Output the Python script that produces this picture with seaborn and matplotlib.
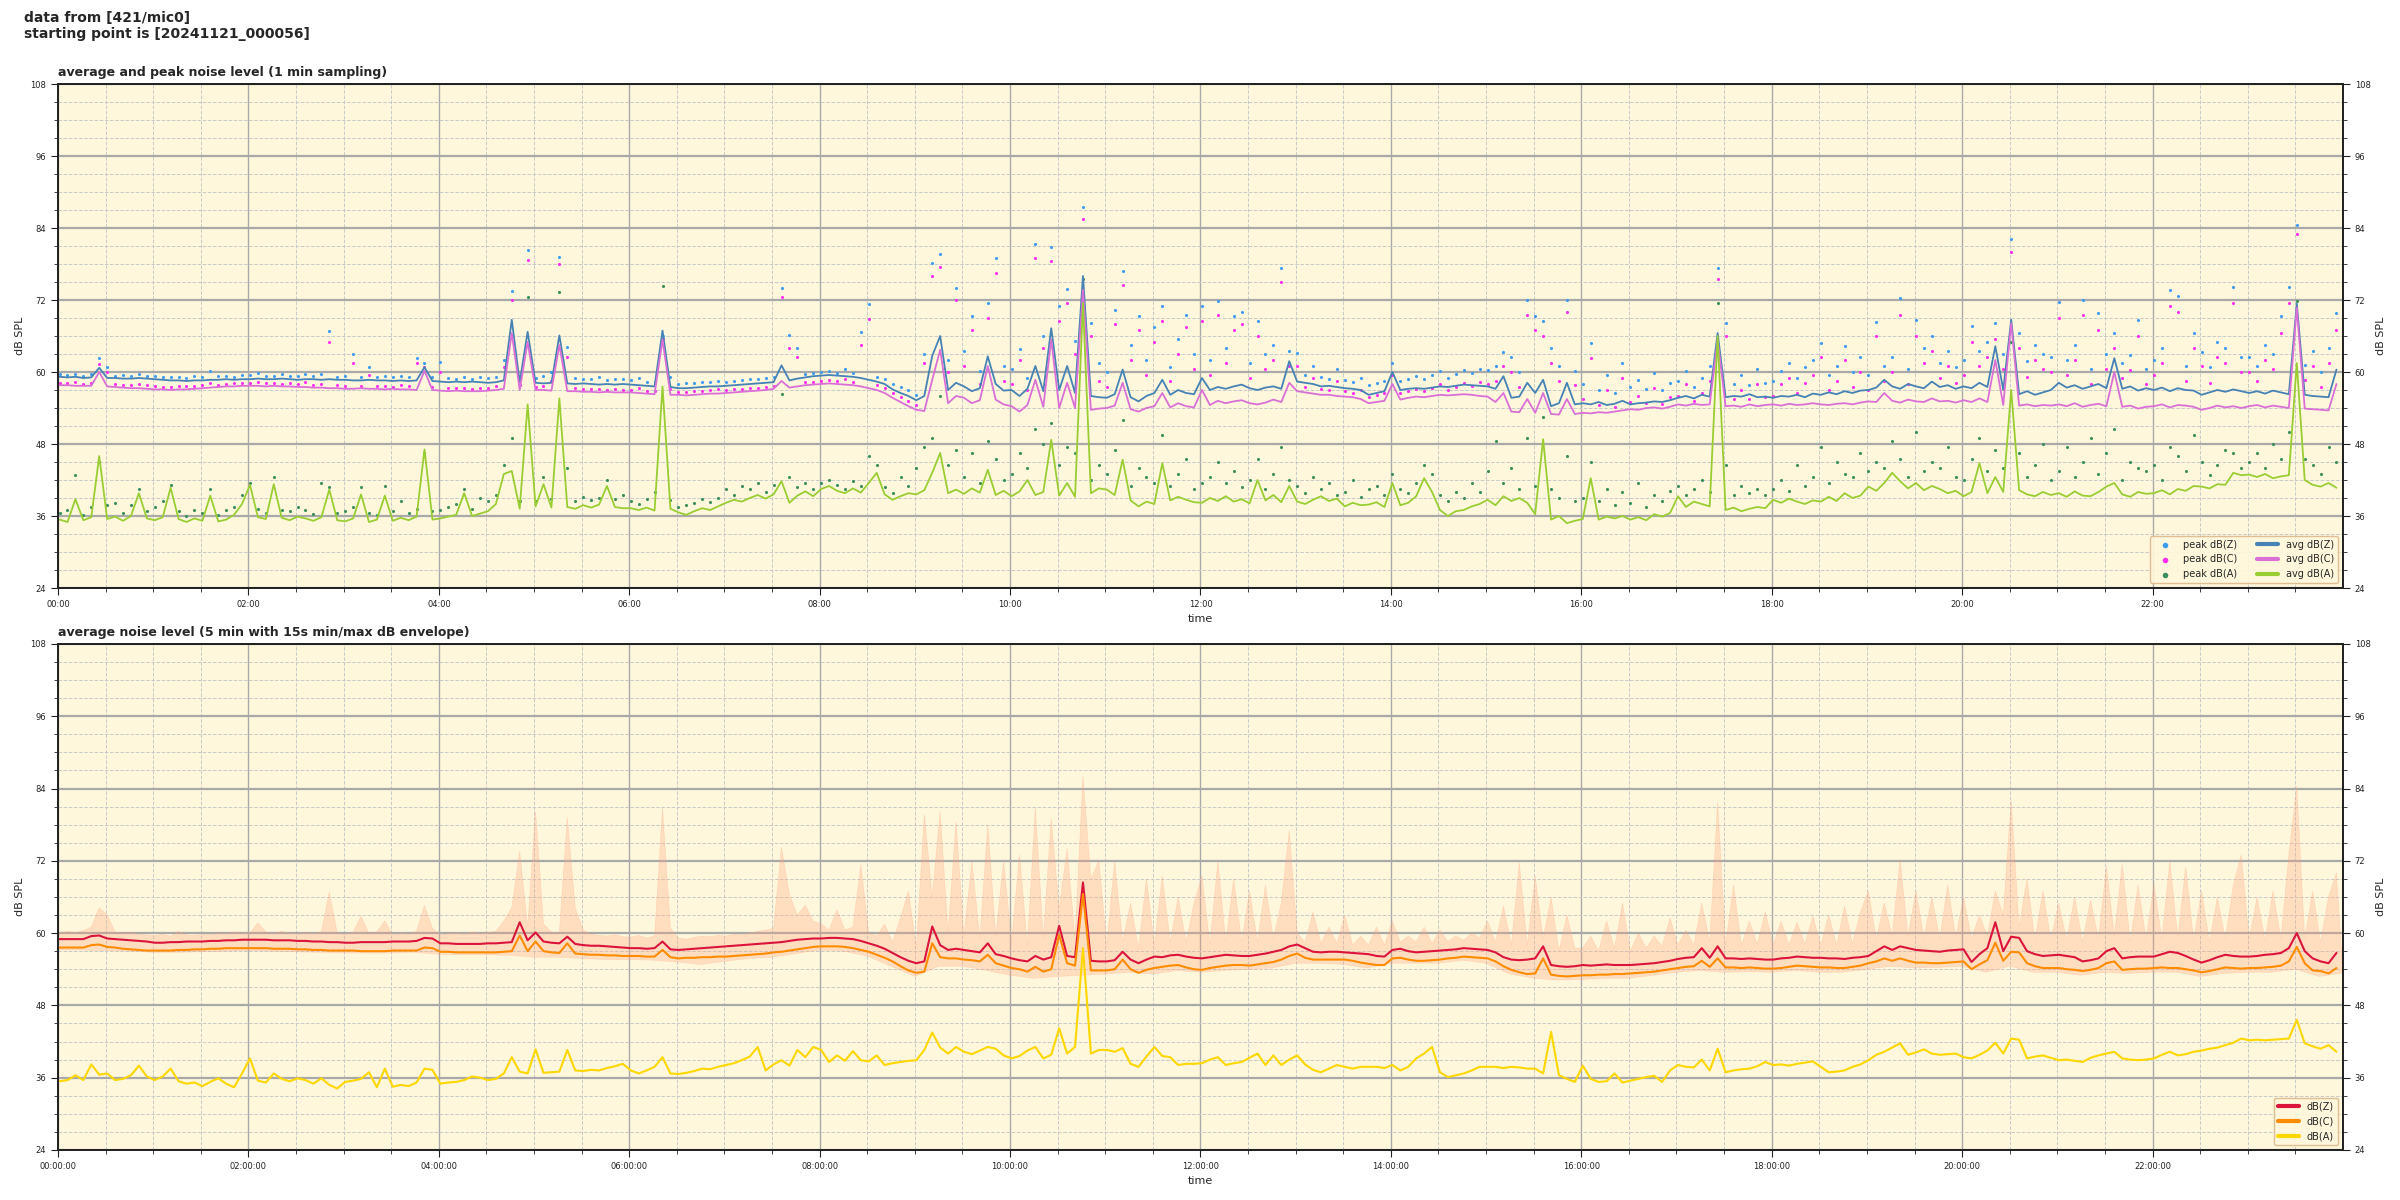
import numpy as np
import pandas as pd
import matplotlib
matplotlib.use('Agg')
import matplotlib.pyplot as plt
import matplotlib.dates as mdates
from matplotlib.ticker import MultipleLocator
import seaborn as sns

sns.set_style('ticks')
plt.rcParams['font.family'] = ['DejaVu Sans']
plt.rcParams['axes.unicode_minus'] = False

START = '2024-11-21 00:00:56'

avg_z = [
    59.2, 59.1, 59.2, 59.0, 59.1, 60.7, 59.0, 59.0, 58.9, 58.9, 59.0, 58.9,
    58.8, 58.7, 58.6, 58.6, 58.5, 58.6, 58.6, 58.7, 58.7, 58.8, 58.7, 58.8,
    58.8, 58.9, 58.8, 58.8, 58.9, 58.8, 58.7, 58.8, 58.8, 58.7, 58.8, 58.7,
    58.7, 58.6, 58.6, 58.7, 58.6, 58.6, 58.5, 58.6, 58.5, 58.6, 60.8, 58.5,
    58.4, 58.3, 58.4, 58.3, 58.4, 58.3, 58.2, 58.3, 58.6, 68.7, 58.3, 66.7,
    58.2, 58.1, 58.2, 66.1, 58.1, 58.0, 58.1, 58.0, 57.9, 58.0, 57.9, 58.0,
    57.9, 57.8, 57.7, 57.6, 66.9, 57.5, 57.3, 57.3, 57.4, 57.5, 57.6, 57.6,
    57.7, 57.8, 57.9, 58.0, 58.1, 58.2, 58.3, 61.1, 58.6, 58.9, 59.1, 59.3,
    59.4, 59.5, 59.4, 59.3, 59.2, 59.0, 58.7, 58.4, 58.0, 57.1, 56.5, 56.0,
    55.3, 56.0, 62.7, 66.0, 57.0, 58.2, 57.6, 56.8, 57.3, 62.6, 58.0, 56.9,
    57.0, 56.0, 57.2, 61.0, 56.8, 67.3, 57.0, 61.0, 56.5, 76.0, 56.0, 55.8,
    55.7, 56.3, 60.4, 55.8, 55.1, 56.0, 56.5, 58.7, 56.2, 57.0, 56.5, 56.3,
    59.0, 57.0, 57.5, 57.2, 57.6, 57.9, 57.3, 57.0, 57.4, 57.6, 57.2, 61.8,
    58.4, 58.2, 58.0, 57.6, 57.7, 57.5, 57.3, 57.2, 57.0, 56.2, 56.5, 56.8,
    60.0, 57.0, 57.2, 57.3, 57.2, 57.4, 57.6, 57.5, 57.7, 57.9, 57.8, 57.7,
    57.6, 57.2, 59.3, 55.7, 55.9, 58.2, 56.5, 58.7, 54.3, 54.8, 58.2, 54.6,
    54.8, 54.6, 55.0, 54.5, 54.7, 55.2, 54.6, 54.8, 54.9, 55.1, 55.0, 55.3,
    55.7, 56.0, 55.6, 56.2, 55.9, 66.5, 55.8, 56.0, 55.9, 56.3, 55.8, 55.9,
    55.7, 56.0, 55.9, 56.2, 55.8, 56.4, 56.2, 56.6, 56.3, 56.8, 56.5, 56.9,
    57.0, 57.4, 58.7, 57.6, 57.2, 58.0, 57.6, 57.3, 58.4, 57.5, 57.8, 57.2,
    57.6, 57.3, 58.2, 57.5, 64.3, 57.0, 68.7, 56.3, 56.8, 56.2, 56.6, 57.0,
    58.2, 57.4, 57.8, 57.2, 57.6, 58.0, 57.3, 62.3, 57.2, 57.6, 56.9, 57.3,
    57.0, 57.4, 56.8, 57.3, 57.0, 56.9, 56.2, 56.6, 57.0, 56.7, 57.1, 56.8,
    56.5, 56.8, 56.4, 56.9, 56.6, 56.3, 71.4, 56.2, 56.0, 55.9, 55.8, 60.4,
]
avg_c = [
    57.8, 57.8, 57.7, 57.7, 57.7, 60.0, 57.6, 57.5, 57.4, 57.3, 57.3, 57.2,
    57.1, 57.1, 57.0, 57.1, 57.1, 57.2, 57.3, 57.4, 57.5, 57.6, 57.6, 57.7,
    57.7, 57.7, 57.6, 57.7, 57.6, 57.6, 57.5, 57.5, 57.4, 57.4, 57.3, 57.3,
    57.2, 57.2, 57.3, 57.2, 57.2, 57.1, 57.2, 57.1, 57.1, 57.0, 60.2, 57.0,
    56.9, 56.8, 56.9, 56.8, 56.8, 56.8, 56.9, 57.0, 57.2, 66.5, 57.0, 65.0,
    57.0, 57.0, 56.9, 64.5, 56.8, 56.8, 56.7, 56.7, 56.6, 56.7, 56.6, 56.6,
    56.6, 56.5, 56.4, 56.3, 65.4, 56.2, 56.2, 56.1, 56.2, 56.3, 56.4, 56.4,
    56.5, 56.6, 56.7, 56.8, 56.9, 57.0, 57.2, 58.5, 57.4, 57.6, 57.8, 57.9,
    58.0, 58.1, 58.0, 57.9, 57.8, 57.6, 57.3, 57.0, 56.5, 55.7, 55.0, 54.3,
    53.7, 53.5, 58.7, 63.7, 54.8, 56.0, 55.7, 54.8, 55.3, 61.0, 55.4, 54.6,
    54.3, 53.4, 54.5, 58.7, 54.2, 65.4, 54.0, 58.2, 54.0, 73.7, 53.7, 53.9,
    54.0, 54.4, 58.2, 53.8, 53.4, 54.0, 54.3, 56.5, 54.1, 54.8, 54.3, 54.1,
    57.0, 54.5, 55.2, 54.8, 55.1, 55.3, 54.8, 54.6, 54.9, 55.4, 55.0, 58.2,
    56.8, 56.6, 56.4, 56.2, 56.2, 56.0, 55.9, 55.8, 55.5, 54.8, 55.0, 55.2,
    58.0, 55.4, 55.7, 55.9, 55.8, 56.0, 56.2, 56.1, 56.2, 56.3, 56.2, 56.0,
    55.9, 55.0, 56.5, 53.4, 53.3, 55.5, 53.2, 56.5, 53.0, 52.9, 55.5, 53.0,
    53.2, 53.1, 53.3, 53.2, 53.4, 53.6, 53.8, 53.7, 54.0, 54.1, 53.9, 54.2,
    54.6, 54.4, 54.7, 54.5, 54.6, 65.4, 54.3, 54.4, 54.2, 54.6, 54.3, 54.5,
    54.6, 54.4, 54.7, 54.5, 54.6, 54.8, 54.6, 54.5, 54.7, 54.8, 54.6, 54.9,
    55.1, 55.0, 56.5, 55.2, 54.9, 55.4, 55.1, 55.0, 55.6, 55.1, 55.2, 54.9,
    55.3, 55.0, 55.6, 55.0, 62.0, 54.5, 68.1, 54.4, 54.6, 54.3, 54.5, 54.4,
    54.6, 54.3, 54.8, 54.2, 54.5, 54.7, 54.3, 60.0, 54.2, 54.4, 53.9, 54.2,
    54.3, 54.6, 54.1, 54.5, 54.4, 54.2, 53.7, 54.0, 54.4, 54.1, 54.3, 54.0,
    54.3, 54.5, 54.1, 54.4, 54.2, 54.0, 70.7, 53.9, 53.8, 53.7, 53.6, 58.0,
]
avg_a = [
    35.4, 35.0, 38.8, 35.3, 35.8, 46.0, 35.5, 35.9, 35.2, 36.0, 39.8, 35.6,
    35.3, 35.8, 40.7, 35.5, 35.0, 35.6, 35.2, 39.4, 35.1, 35.4, 36.2, 38.0,
    41.2, 35.8, 35.5, 41.3, 35.7, 35.3, 35.9, 35.6, 35.2, 35.8, 40.4, 35.3,
    35.1, 35.6, 39.6, 35.0, 35.4, 39.4, 35.2, 35.7, 35.3, 35.9, 47.1, 35.4,
    35.6, 35.9, 36.2, 39.8, 36.0, 36.4, 36.8, 38.0, 43.0, 43.5, 37.2, 54.6,
    37.6, 41.3, 37.4, 55.6, 37.5, 37.2, 37.8, 37.4, 37.9, 41.0, 37.5, 37.3,
    37.3, 37.0, 37.4, 36.9, 57.6, 37.2, 36.6, 36.2, 36.8, 37.3, 37.0, 37.6,
    38.2, 38.7, 38.4, 39.0, 39.5, 38.9, 39.6, 41.8, 38.2, 39.4, 40.1, 39.3,
    40.5, 41.0, 40.2, 39.8, 40.6, 39.9, 41.5, 43.2, 39.6, 38.7, 39.3, 39.8,
    39.6, 40.3, 43.2, 46.5, 39.8, 40.4, 39.7, 40.6, 39.9, 43.7, 39.5, 40.2,
    39.3, 40.1, 42.0, 39.5, 40.0, 48.7, 39.4, 41.5, 39.2, 71.5, 39.8, 40.6,
    40.4, 39.5, 45.4, 38.6, 37.6, 38.4, 38.0, 44.8, 38.6, 39.2, 38.7, 38.3,
    38.2, 39.0, 38.5, 39.3, 38.4, 38.8, 38.1, 42.0, 38.6, 39.5, 38.3, 41.0,
    38.4, 38.0, 38.7, 39.3, 38.5, 38.9, 37.6, 38.2, 37.8, 37.9, 38.3, 37.5,
    41.5, 37.8, 38.2, 39.3, 42.3, 40.0, 37.0, 36.0, 36.8, 37.0, 37.6, 38.0,
    38.7, 37.8, 39.3, 38.5, 39.0, 38.2, 36.3, 48.8, 35.4, 36.0, 34.8, 35.2,
    35.5, 42.3, 35.4, 35.9, 35.6, 36.0, 35.4, 35.8, 35.3, 36.3, 35.9, 36.5,
    39.3, 37.5, 38.4, 38.0, 37.6, 66.0, 37.0, 37.4, 36.8, 37.2, 37.5, 37.3,
    38.7, 38.2, 38.9, 38.4, 38.0, 38.6, 38.4, 39.2, 38.5, 39.8, 39.0, 39.4,
    40.9, 40.2, 41.5, 43.2, 41.8, 40.6, 41.5, 40.3, 41.0, 40.5, 39.8, 40.2,
    39.3, 40.0, 44.8, 39.8, 42.5, 40.0, 57.0, 40.3, 39.6, 39.3, 40.0, 39.5,
    39.8, 39.2, 40.1, 39.4, 39.3, 40.0, 40.9, 41.5, 39.6, 39.2, 40.0, 39.7,
    39.8, 40.3, 39.6, 40.5, 40.2, 41.0, 40.9, 40.6, 41.3, 41.2, 43.2, 42.8,
    42.9, 42.5, 43.0, 42.3, 42.6, 42.8, 61.5, 42.0, 41.2, 40.9, 41.5, 40.7,
]
peak_z = [
    59.6, 59.5, 59.7, 59.4, 59.6, 62.3, 60.8, 59.4, 59.5, 59.3, 59.6, 59.4,
    59.3, 59.2, 59.1, 59.2, 59.0, 59.3, 59.2, 60.2, 59.3, 59.4, 59.2, 59.5,
    59.5, 59.8, 59.3, 59.4, 59.6, 59.3, 59.4, 59.7, 59.3, 59.6, 66.8, 59.2,
    59.3, 63.0, 59.1, 60.8, 59.2, 59.3, 59.1, 59.4, 59.2, 62.3, 61.5, 59.1,
    61.7, 59.0, 58.9, 59.1, 58.8, 59.2, 59.0, 59.1, 62.0, 73.5, 59.3, 80.3,
    59.0, 59.3, 60.0, 79.2, 64.2, 59.0, 58.8, 58.9, 59.1, 58.7, 58.9, 58.8,
    58.6, 59.0, 58.4, 58.3, 66.0, 59.2, 58.0, 58.2, 58.1, 58.3, 58.4, 58.5,
    58.4, 58.5, 58.6, 58.8, 58.9, 59.0, 59.2, 74.0, 66.2, 64.0, 59.6, 59.8,
    60.0, 60.2, 59.9, 60.5, 59.8, 66.6, 71.3, 59.2, 58.8, 58.0, 57.5, 57.0,
    56.2, 63.0, 78.2, 79.6, 62.0, 74.0, 63.5, 69.3, 60.2, 71.5, 79.0, 61.0,
    60.5, 63.8, 59.0, 81.3, 66.0, 80.9, 71.0, 73.8, 65.2, 87.5, 68.2, 61.5,
    60.0, 70.4, 76.8, 64.5, 69.3, 62.0, 67.5, 71.0, 60.8, 65.5, 69.5, 63.0,
    71.0, 62.0, 71.8, 64.0, 69.3, 70.0, 61.5, 68.5, 63.0, 64.5, 77.3, 63.5,
    63.2, 59.5, 61.0, 59.2, 58.8, 60.5, 58.6, 58.3, 59.0, 57.8, 58.2, 58.5,
    61.5, 58.5, 58.8, 59.3, 58.9, 59.5, 60.2, 59.0, 59.6, 60.4, 59.8, 60.5,
    60.4, 61.0, 63.4, 62.5, 60.0, 72.0, 69.3, 68.5, 64.0, 61.0, 72.0, 60.2,
    58.0, 64.8, 57.0, 59.5, 56.5, 61.5, 57.5, 58.6, 57.2, 59.8, 57.0, 58.2,
    58.5, 60.2, 57.5, 59.0, 61.0, 77.4, 68.2, 58.0, 59.5, 57.8, 60.5, 58.2,
    58.5, 60.2, 61.5, 59.0, 60.8, 62.0, 64.8, 59.5, 61.0, 64.3, 60.0, 62.5,
    59.5, 68.3, 61.0, 62.5, 72.3, 60.5, 68.7, 64.0, 66.0, 61.5, 63.5, 60.8,
    62.0, 67.6, 63.5, 65.0, 68.2, 63.0, 82.1, 66.5, 61.8, 64.5, 63.0, 62.5,
    71.7, 62.0, 64.5, 72.0, 60.5, 69.8, 63.0, 66.5, 61.5, 62.8, 68.7, 60.5,
    62.0, 64.0, 73.7, 72.6, 61.0, 66.5, 63.4, 60.8, 65.0, 64.0, 74.2, 62.5,
    62.5, 61.0, 64.5, 63.0, 69.3, 74.2, 84.5, 61.2, 63.5, 60.0, 64.0, 69.8,
]
peak_c = [
    58.2, 58.1, 58.3, 58.0, 58.2, 61.3, 60.0, 58.0, 57.9, 57.8, 58.0, 57.8,
    57.6, 57.5, 57.5, 57.6, 57.6, 57.7, 57.8, 58.2, 57.9, 58.0, 58.1, 58.2,
    58.2, 58.3, 58.1, 58.1, 58.0, 58.1, 58.0, 58.3, 57.9, 58.0, 65.0, 57.8,
    57.7, 61.5, 57.6, 59.5, 57.6, 57.7, 57.5, 57.8, 57.6, 61.5, 60.8, 57.5,
    60.0, 57.3, 57.4, 57.3, 57.2, 57.4, 57.3, 57.6, 60.8, 72.0, 57.8, 78.7,
    57.5, 57.6, 58.5, 78.0, 62.5, 57.3, 57.2, 57.1, 57.2, 57.0, 57.1, 57.0,
    57.0, 57.3, 56.9, 56.8, 65.5, 57.2, 56.6, 56.7, 56.8, 56.9, 57.0, 57.1,
    57.0, 57.1, 57.2, 57.3, 57.4, 57.5, 57.7, 72.5, 64.0, 62.5, 58.3, 58.4,
    58.5, 58.6, 58.5, 58.8, 58.3, 64.5, 68.8, 57.9, 57.3, 56.5, 55.8, 55.2,
    54.5, 61.5, 76.0, 77.5, 60.0, 72.0, 61.0, 67.0, 58.0, 69.0, 76.5, 58.5,
    58.0, 62.0, 57.0, 79.0, 64.0, 78.5, 68.5, 71.5, 63.0, 85.5, 66.0, 58.5,
    57.5, 68.0, 74.5, 62.0, 67.0, 59.5, 65.0, 68.5, 58.5, 63.0, 67.5, 60.5,
    68.5, 59.5, 69.5, 61.5, 67.0, 68.0, 59.0, 66.0, 60.5, 62.0, 75.0, 61.0,
    61.0, 57.5, 59.0, 57.2, 57.0, 58.5, 56.8, 56.5, 57.0, 55.8, 56.2, 56.5,
    59.5, 56.5, 56.8, 57.2, 56.9, 57.4, 58.0, 57.0, 57.5, 58.2, 57.6, 58.3,
    58.0, 58.5, 61.0, 60.0, 57.5, 69.5, 67.0, 66.0, 61.5, 58.5, 70.0, 57.8,
    55.5, 62.3, 54.5, 57.0, 54.2, 59.0, 55.0, 56.0, 54.8, 57.3, 54.6, 55.8,
    56.0, 58.0, 55.2, 56.5, 58.5, 75.5, 66.0, 55.5, 57.0, 55.5, 58.0, 55.8,
    56.0, 58.0, 59.0, 56.5, 58.2, 59.5, 62.5, 57.0, 58.5, 62.0, 57.5, 60.0,
    57.0, 66.0, 58.5, 60.0, 69.5, 58.0, 66.0, 61.5, 63.5, 59.0, 61.0, 58.2,
    59.5, 65.0, 61.0, 62.5, 65.5, 60.5, 80.0, 64.0, 59.2, 62.0, 60.5, 60.0,
    69.0, 59.5, 62.0, 69.5, 58.0, 67.0, 60.5, 64.0, 59.0, 60.3, 66.0, 58.0,
    59.5, 61.5, 71.0, 70.0, 58.5, 64.0, 61.0, 58.2, 62.5, 61.5, 71.5, 60.0,
    60.0, 58.5, 62.0, 60.5, 66.5, 71.5, 83.0, 58.7, 61.0, 57.5, 61.5, 67.0,
]
peak_a = [
    36.5, 37.0, 42.8, 36.2, 37.5, 45.0, 37.8, 38.2, 36.5, 37.8, 40.5, 36.8,
    37.5, 38.5, 41.2, 36.8, 36.0, 37.0, 36.5, 40.5, 36.2, 37.0, 37.5, 39.5,
    41.5, 37.2, 36.5, 42.5, 37.0, 36.8, 37.5, 37.0, 36.4, 41.5, 40.8, 36.5,
    36.8, 37.5, 40.8, 36.5, 36.2, 41.0, 36.8, 38.5, 36.5, 37.2, 46.5, 36.8,
    37.0, 37.5, 38.0, 40.5, 37.2, 39.0, 38.5, 39.5, 44.5, 49.0, 38.5, 72.5,
    38.5, 42.5, 38.8, 73.3, 44.0, 38.5, 39.2, 38.6, 39.0, 42.0, 38.8, 39.5,
    38.5, 38.0, 38.8, 40.0, 74.4, 38.6, 37.5, 37.8, 38.2, 38.8, 38.4, 39.0,
    40.5, 39.5, 41.0, 40.5, 41.5, 40.0, 41.2, 56.3, 42.5, 40.8, 41.5, 40.5,
    41.5, 42.0, 41.2, 40.5, 41.8, 41.0, 46.0, 44.5, 40.8, 39.8, 42.5, 41.0,
    44.0, 47.5, 49.0, 56.0, 44.5, 47.0, 42.5, 46.5, 41.5, 48.5, 45.5, 42.0,
    43.0, 46.5, 44.0, 50.5, 48.0, 51.5, 44.5, 47.5, 46.5, 75.5, 42.0, 44.5,
    43.0, 47.0, 52.0, 41.0, 44.0, 42.5, 41.5, 49.5, 41.0, 43.0, 45.5, 40.5,
    41.5, 42.5, 45.0, 41.5, 43.5, 40.8, 42.0, 45.5, 40.5, 43.0, 47.5, 42.0,
    41.0, 39.8, 42.5, 40.5, 41.5, 39.5, 40.0, 42.0, 39.2, 40.5, 41.0, 39.5,
    43.0, 40.5, 39.8, 41.5, 44.5, 43.0, 39.5, 38.5, 40.0, 39.0, 41.5, 40.0,
    43.5, 48.5, 41.5, 44.0, 40.5, 49.0, 41.0, 52.5, 40.5, 39.0, 46.0, 38.5,
    39.0, 45.0, 38.5, 40.5, 37.8, 40.0, 38.2, 41.5, 37.5, 39.5, 38.5, 40.2,
    41.0, 39.5, 40.5, 42.0, 40.0, 71.5, 44.5, 39.5, 41.0, 39.8, 40.5, 39.5,
    40.5, 42.0, 40.2, 44.5, 41.0, 42.5, 47.5, 41.5, 45.0, 43.0, 42.5, 46.5,
    43.5, 45.0, 44.0, 48.5, 45.5, 42.5, 50.0, 43.5, 45.0, 44.0, 47.5, 42.5,
    42.0, 45.5, 49.0, 43.5, 47.0, 44.0, 65.0, 46.5, 42.5, 44.5, 48.0, 42.0,
    43.5, 47.5, 42.5, 45.0, 49.0, 43.0, 46.5, 50.5, 42.0, 45.0, 44.0, 43.5,
    44.5, 42.0, 47.5, 46.0, 43.5, 49.5, 45.0, 42.8, 44.5, 47.0, 46.5, 44.0,
    45.0, 46.5, 44.0, 48.0, 45.5, 50.0, 71.8, 45.5, 44.5, 43.0, 47.5, 45.0,
]

bot_z = [
    59.0, 59.0, 59.0, 59.0, 59.5, 59.6, 59.1, 59.0, 58.9, 58.8, 58.7, 58.6,
    58.4, 58.4, 58.5, 58.5, 58.6, 58.6, 58.6, 58.7, 58.7, 58.8, 58.8, 58.9,
    58.9, 58.9, 58.9, 58.8, 58.8, 58.8, 58.7, 58.7, 58.6, 58.6, 58.5, 58.5,
    58.4, 58.4, 58.5, 58.5, 58.5, 58.5, 58.6, 58.6, 58.6, 58.7, 59.2, 59.1,
    58.3, 58.3, 58.2, 58.2, 58.2, 58.2, 58.3, 58.3, 58.4, 58.5, 61.8, 58.8,
    60.1, 58.6, 58.4, 58.3, 59.4, 58.2, 58.0, 57.9, 57.9, 57.8, 57.7, 57.6,
    57.5, 57.5, 57.4, 57.5, 58.6, 57.3, 57.2, 57.3, 57.4, 57.5, 57.6, 57.7,
    57.8, 57.9, 58.0, 58.1, 58.2, 58.3, 58.4, 58.5, 58.7, 58.9, 59.0, 59.1,
    59.1, 59.2, 59.2, 59.1, 59.0, 58.7, 58.3, 57.9, 57.4, 56.7, 56.0, 55.4,
    55.0, 55.3, 61.1, 58.0, 57.2, 57.4, 57.2, 57.0, 56.8, 58.3, 56.5, 56.2,
    55.8, 55.5, 55.3, 56.2, 55.6, 56.0, 61.2, 56.2, 56.0, 68.4, 55.4, 55.3,
    55.3, 55.5, 56.9, 55.6, 55.0, 55.6, 56.1, 56.0, 56.3, 56.4, 56.1, 55.9,
    55.8, 56.0, 56.2, 56.4, 56.3, 56.2, 56.2, 56.4, 56.6, 56.9, 57.2, 57.8,
    58.1, 57.5, 56.9, 56.8, 56.9, 56.9, 56.8, 56.7, 56.6, 56.5, 56.2, 56.1,
    57.2, 57.4, 57.0, 56.8, 56.9, 57.0, 57.1, 57.2, 57.3, 57.5, 57.4, 57.3,
    57.2, 56.8, 56.0, 55.6, 55.5, 55.6, 55.8, 57.8, 54.7, 54.5, 54.4, 54.5,
    54.7, 54.6, 54.7, 54.8, 54.7, 54.7, 54.7, 54.8, 54.9, 55.0, 55.2, 55.4,
    55.7, 55.9, 56.0, 57.5, 55.9, 57.8, 55.8, 55.8, 55.7, 55.8, 55.7, 55.6,
    55.6, 55.8, 55.9, 56.1, 56.0, 55.9, 55.9, 55.8, 55.8, 55.7, 55.9, 56.0,
    56.2, 57.0, 57.8, 57.2, 57.8, 57.5, 57.2, 57.1, 57.0, 56.9, 57.1, 57.2,
    57.3, 55.2, 56.5, 57.5, 61.8, 57.0, 59.4, 59.2, 57.0, 56.5, 56.2, 56.3,
    56.4, 56.2, 56.0, 55.3, 55.5, 55.8, 57.0, 57.5, 55.8, 56.0, 56.1, 56.1,
    56.1, 56.5, 56.9, 56.7, 56.2, 55.6, 55.1, 55.5, 56.0, 56.4, 56.2, 56.1,
    56.1, 56.2, 56.4, 56.5, 56.7, 57.5, 60.0, 57.0, 55.8, 55.3, 55.0, 56.7,
]
bot_c = [
    57.6, 57.6, 57.6, 57.6, 58.0, 58.1, 57.7, 57.6, 57.4, 57.3, 57.2, 57.1,
    57.1, 57.1, 57.1, 57.2, 57.2, 57.3, 57.3, 57.4, 57.4, 57.5, 57.5, 57.5,
    57.5, 57.5, 57.5, 57.4, 57.4, 57.4, 57.3, 57.3, 57.2, 57.2, 57.1, 57.1,
    57.1, 57.1, 57.0, 57.0, 57.0, 57.0, 57.1, 57.1, 57.1, 57.1, 57.6, 57.5,
    56.9, 56.9, 56.8, 56.8, 56.8, 56.8, 56.8, 56.8, 56.9, 57.0, 59.6, 57.0,
    58.6, 57.0, 56.8, 56.7, 58.3, 56.6, 56.5, 56.4, 56.4, 56.3, 56.3, 56.2,
    56.2, 56.2, 56.1, 56.1, 57.2, 56.0, 55.8, 55.9, 55.9, 56.0, 56.0, 56.1,
    56.1, 56.2, 56.3, 56.4, 56.5, 56.6, 56.8, 56.9, 57.1, 57.3, 57.5, 57.7,
    57.8, 57.8, 57.8, 57.7, 57.5, 57.2, 56.9, 56.4, 55.9, 55.3, 54.5, 53.8,
    53.4, 53.6, 58.3, 56.0, 55.8, 55.8, 55.6, 55.5, 55.3, 56.4, 55.0, 54.6,
    54.2, 54.0, 53.6, 54.4, 53.6, 54.0, 59.7, 55.0, 54.6, 66.5, 53.8, 53.8,
    53.8, 54.0, 55.6, 54.0, 53.4, 53.9, 54.2, 54.4, 54.6, 54.7, 54.3, 54.0,
    53.9, 54.2, 54.4, 54.6, 54.7, 54.7, 54.6, 54.8, 55.0, 55.2, 55.6, 56.2,
    56.6, 55.9, 55.6, 55.6, 55.6, 55.6, 55.6, 55.4, 55.1, 54.9, 54.7, 54.7,
    55.8, 55.9, 55.6, 55.4, 55.4, 55.5, 55.6, 55.8, 55.9, 56.1, 56.0, 55.9,
    55.8, 55.3, 54.5, 53.9, 53.5, 53.2, 53.3, 55.8, 53.1, 52.9, 52.8, 52.9,
    53.0, 53.0, 53.1, 53.1, 53.2, 53.2, 53.3, 53.4, 53.5, 53.6, 53.8, 54.0,
    54.2, 54.4, 54.5, 55.4, 54.4, 55.8, 54.3, 54.3, 54.2, 54.3, 54.2, 54.1,
    54.1, 54.2, 54.4, 54.6, 54.5, 54.4, 54.3, 54.3, 54.2, 54.2, 54.4, 54.6,
    55.0, 55.3, 55.8, 55.4, 55.8, 55.4, 55.1, 55.1, 55.0, 55.0, 55.1, 55.2,
    55.3, 54.0, 54.8, 55.5, 58.4, 55.4, 56.9, 56.8, 55.0, 54.5, 54.2, 54.2,
    54.2, 54.0, 53.9, 53.7, 53.9, 54.2, 55.0, 55.3, 53.9, 54.0, 54.1, 54.1,
    54.2, 54.3, 54.2, 54.2, 54.0, 53.8, 53.5, 53.7, 54.0, 54.3, 54.2, 54.1,
    54.2, 54.2, 54.3, 54.4, 54.6, 55.3, 57.7, 55.0, 53.8, 53.7, 53.3, 54.2,
]
bot_a = [
    35.4, 35.6, 36.4, 35.6, 38.2, 36.5, 36.7, 35.6, 35.8, 36.4, 38.0, 36.2,
    35.6, 36.2, 37.5, 35.4, 35.0, 35.2, 34.6, 35.3, 35.9, 35.0, 34.4, 36.7,
    39.2, 35.5, 35.2, 36.7, 35.8, 35.4, 35.9, 35.6, 35.0, 35.9, 34.8, 34.2,
    35.3, 35.5, 35.8, 36.9, 34.4, 37.5, 34.5, 34.8, 34.6, 35.2, 37.5, 37.3,
    35.0, 35.2, 35.3, 35.6, 36.2, 36.0, 35.6, 35.8, 36.7, 39.4, 37.0, 36.7,
    40.7, 36.8, 36.9, 37.0, 40.6, 37.2, 37.1, 37.3, 37.2, 37.6, 37.9, 38.3,
    37.2, 36.7, 37.2, 37.8, 39.4, 36.7, 36.6, 36.8, 37.1, 37.5, 37.4, 37.8,
    38.1, 38.4, 38.9, 39.5, 41.1, 37.2, 38.2, 38.9, 38.0, 40.6, 39.4, 41.1,
    40.6, 38.6, 39.7, 38.8, 40.4, 38.9, 38.7, 39.7, 38.1, 38.4, 38.6, 38.8,
    38.9, 40.6, 43.5, 41.0, 40.0, 41.1, 40.3, 39.9, 40.5, 41.1, 40.8, 39.7,
    39.2, 39.6, 40.5, 41.1, 39.2, 39.8, 44.2, 40.0, 41.1, 57.5, 40.0, 40.6,
    40.6, 40.3, 40.9, 38.3, 37.8, 39.5, 41.1, 39.6, 39.4, 38.1, 38.3, 38.3,
    38.4, 39.0, 39.4, 38.1, 38.4, 38.6, 39.3, 40.0, 38.1, 39.7, 38.1, 39.0,
    39.7, 38.2, 37.3, 36.9, 37.5, 38.1, 37.8, 37.5, 37.8, 37.8, 37.8, 37.6,
    38.1, 37.2, 37.8, 39.2, 40.0, 41.1, 36.9, 36.1, 36.4, 36.7, 37.2, 37.8,
    37.8, 37.8, 37.6, 37.8, 37.7, 37.5, 37.5, 36.7, 43.6, 36.4, 35.8, 35.3,
    38.0, 35.8, 35.3, 35.4, 36.7, 35.2, 35.5, 35.8, 36.1, 36.3, 35.3, 37.2,
    38.1, 37.8, 37.7, 39.0, 37.2, 40.8, 36.9, 37.2, 37.4, 37.5, 37.9, 38.6,
    38.1, 38.2, 38.0, 38.3, 38.5, 38.7, 37.8, 36.9, 37.0, 37.2, 37.8, 38.2,
    38.9, 39.8, 40.3, 41.0, 41.7, 39.8, 40.2, 40.7, 40.0, 39.8, 39.9, 40.0,
    39.4, 39.2, 39.8, 40.5, 41.8, 40.0, 42.5, 42.3, 39.2, 39.5, 39.7, 39.3,
    38.9, 39.0, 38.8, 38.6, 39.3, 39.7, 40.0, 40.3, 39.2, 39.0, 38.9, 39.0,
    39.2, 39.8, 40.3, 39.7, 39.9, 40.3, 40.5, 40.8, 41.0, 41.4, 41.8, 42.5,
    42.2, 42.3, 42.2, 42.3, 42.4, 42.5, 45.6, 41.7, 41.2, 40.8, 41.4, 40.3,
]
# 15 s min/max envelope: max read every 5 min, min read every 15 min
env_max = [
    60.0, 60.3, 60.1, 60.4, 61.0, 64.2, 63.0, 60.2, 60.0, 60.1, 59.8, 59.7,
    59.6, 59.8, 59.5, 60.3, 59.7, 59.6, 59.8, 59.7, 60.0, 59.9, 60.2, 60.0,
    60.0, 61.7, 60.2, 59.9, 60.3, 60.0, 59.8, 60.1, 59.9, 60.2, 66.8, 60.0,
    59.8, 60.1, 62.8, 59.9, 60.2, 62.0, 59.7, 60.0, 59.8, 60.3, 64.6, 60.8,
    59.7, 59.9, 60.0, 59.8, 60.2, 59.9, 60.1, 60.3, 62.0, 64.2, 73.6, 61.0,
    80.3, 61.5, 60.2, 60.0, 79.2, 64.2, 60.5, 59.8, 59.6, 59.5, 59.7, 59.4,
    59.3, 59.6, 59.2, 59.5, 80.8, 60.8, 59.2, 59.0, 59.3, 59.5, 59.4, 59.6,
    59.5, 59.8, 59.7, 60.0, 60.3, 60.5, 60.8, 74.2, 66.4, 63.0, 64.6, 62.0,
    61.5, 60.5, 63.9, 60.5, 61.0, 71.4, 60.0, 59.5, 61.5, 58.5, 62.5, 67.0,
    57.5, 79.7, 66.0, 80.2, 60.0, 78.5, 59.5, 72.0, 59.0, 78.0, 59.5, 72.0,
    58.5, 73.0, 58.0, 80.8, 59.0, 79.0, 64.0, 74.0, 59.0, 86.0, 69.0, 72.0,
    58.0, 72.0, 58.5, 65.0, 57.5, 69.0, 58.0, 69.5, 58.5, 66.0, 58.5, 65.0,
    69.5, 58.0, 72.0, 58.5, 69.0, 58.5, 67.0, 58.5, 68.0, 59.0, 65.0, 77.0,
    60.0, 58.5, 63.5, 58.3, 61.0, 58.3, 63.0, 58.0, 59.5, 58.0, 61.0, 58.0,
    62.0, 58.5, 59.5, 58.5, 61.0, 58.3, 60.5, 58.6, 59.5, 58.8, 60.0, 59.2,
    62.0, 58.5, 64.5, 58.0, 71.7, 58.0, 69.5, 59.0, 66.0, 57.0, 63.0, 57.5,
    57.5, 59.5, 57.0, 62.0, 57.5, 65.0, 57.0, 60.0, 57.5, 59.5, 57.8, 62.5,
    58.0, 60.5, 58.0, 65.0, 58.5, 81.7, 58.0, 68.0, 58.0, 62.0, 58.2, 63.5,
    58.0, 62.0, 58.0, 61.8, 58.2, 62.8, 58.0, 63.0, 58.0, 64.5, 58.3, 63.5,
    67.0, 59.0, 65.0, 59.5, 72.2, 59.5, 67.0, 59.2, 66.0, 59.0, 68.0, 59.3,
    66.0, 59.0, 63.0, 59.5, 67.0, 63.0, 82.0, 61.0, 69.0, 58.8, 67.0, 59.0,
    65.0, 58.8, 66.0, 58.5, 65.5, 59.0, 71.0, 59.5, 71.5, 58.5, 68.0, 59.0,
    68.0, 59.0, 72.0, 59.2, 71.0, 58.8, 67.0, 58.5, 66.0, 59.0, 68.0, 73.0,
    59.0, 66.0, 58.8, 67.0, 59.0, 73.0, 84.4, 59.0, 67.0, 58.5, 66.0, 70.0,
]
env_min = [
    57.2, 57.2, 57.1, 57.0, 56.8, 56.8, 56.9, 57.0, 57.1, 57.0, 56.9, 56.8,
    56.7, 56.7, 56.7, 56.8, 56.5, 56.4, 56.4, 56.3, 56.0, 56.0, 55.8, 55.6,
    55.6, 55.5, 55.2, 54.8, 55.3, 55.8, 56.0, 56.6, 57.2, 57.0, 56.2, 54.5,
    52.8, 54.5, 54.5, 53.8, 53.0, 52.5, 52.8, 53.0, 53.2, 53.5, 53.2, 53.8,
    53.5, 53.8, 54.0, 54.2, 55.0, 55.0, 54.8, 54.2, 55.0, 55.0, 55.0, 55.5,
    55.0, 53.2, 52.5, 52.2, 52.3, 52.5, 52.5, 53.0, 53.5, 53.8, 53.5, 53.6,
    53.5, 53.8, 53.5, 53.5, 54.0, 54.5, 54.2, 54.3, 54.5, 53.5, 54.5, 53.5,
    53.5, 53.0, 53.5, 53.3, 53.5, 53.5, 52.8, 53.3, 53.5, 53.5, 54.0, 52.8,
    53.4,
]

BG = '#fff7dc'
MAJOR = '#a9a9a9'
MINOR = '#c9c9c9'

times = pd.date_range(START, periods=len(avg_z), freq='5min')
env_times = pd.date_range('2024-11-21 00:00:00', periods=len(env_min), freq='15min')
x0 = pd.Timestamp('2024-11-21 00:00:00')
x1 = pd.Timestamp('2024-11-21 23:59:59')


def style_axes(ax, fmt):
    ax.set_facecolor(BG)
    ax.set_xlim(x0, x1)
    ax.set_ylim(24, 108)
    ax.yaxis.set_major_locator(MultipleLocator(12))
    ax.yaxis.set_minor_locator(MultipleLocator(3))
    ax.xaxis.set_major_locator(mdates.HourLocator(interval=2))
    ax.xaxis.set_minor_locator(mdates.MinuteLocator(byminute=[0, 30]))
    ax.xaxis.set_major_formatter(mdates.DateFormatter(fmt))
    ax.set_axisbelow(True)
    ax.grid(which='major', axis='x', color=MAJOR, lw=1.0)
    ax.grid(which='major', axis='y', color=MAJOR, lw=1.6)
    ax.grid(which='minor', color=MINOR, ls='--', lw=0.7)
    ax.tick_params(which='major', length=5, labelsize=6, colors='#222222')
    ax.tick_params(which='minor', length=3)
    for s in ax.spines.values():
        s.set_color('black')
        s.set_linewidth(1.3)
    ax.set_xlabel('time', fontsize=8)
    ax.set_ylabel('dB SPL', fontsize=8)
    tw = ax.twinx()
    tw.set_ylim(24, 108)
    tw.yaxis.set_major_locator(MultipleLocator(12))
    tw.yaxis.set_minor_locator(MultipleLocator(3))
    tw.tick_params(which='major', length=5, labelsize=6, colors='#222222')
    tw.tick_params(which='minor', length=3)
    tw.set_ylabel('dB SPL', fontsize=8)
    for s in tw.spines.values():
        s.set_linewidth(1.3)


fig = plt.figure(figsize=(24, 12), dpi=100)
ax1 = fig.add_axes([0.0242, 0.51, 0.952, 0.42])
ax2 = fig.add_axes([0.0242, 0.0417, 0.952, 0.4217])

# top: peaks as dots, averages as lines
for vals, col, lab in [(peak_z, '#3d9cf0', 'peak dB(Z)'),
                       (peak_c, '#ff2ef0', 'peak dB(C)'),
                       (peak_a, '#3a8f5c', 'peak dB(A)')]:
    sns.scatterplot(x=times, y=vals, ax=ax1, color=col, s=5, linewidth=0, label=lab, zorder=3)
for vals, col, lab in [(avg_z, '#4682b4', 'avg dB(Z)'),
                       (avg_c, '#da70d6', 'avg dB(C)'),
                       (avg_a, '#9acd32', 'avg dB(A)')]:
    sns.lineplot(x=times, y=vals, ax=ax1, color=col, lw=1.3, estimator=None, label=lab, zorder=4)

# bottom: envelope + 5 min averages
for vals, col, lab in [(bot_z, '#dc143c', 'dB(Z)'),
                       (bot_c, '#ff8c00', 'dB(C)'),
                       (bot_a, '#ffd700', 'dB(A)')]:
    sns.lineplot(x=times, y=vals, ax=ax2, color=col, lw=1.5, estimator=None, label=lab, zorder=4)
poly_x = np.concatenate([mdates.date2num(times), mdates.date2num(env_times)[::-1]])
poly_y = np.concatenate([env_max, env_min[::-1]])
ax2.fill(poly_x, poly_y, color='#ffa07a', alpha=0.28, lw=0.5, zorder=2)

style_axes(ax1, '%H:%M')
style_axes(ax2, '%H:%M:%S')

ax1.set_title('average and peak noise level (1 min sampling)', loc='left',
              fontsize=9, fontweight='bold')
ax2.set_title('average noise level (5 min with 15s min/max dB envelope)', loc='left',
              fontsize=9, fontweight='bold')

leg1 = ax1.legend(ncol=2, loc='lower right', fontsize=7, facecolor=BG, edgecolor='#dcb88a',
                  framealpha=0.9, markerscale=1.8, handlelength=2.2, columnspacing=2.0)
for ln in leg1.get_lines():
    ln.set_linewidth(3)
leg2 = ax2.legend(loc='lower right', fontsize=7, facecolor=BG, edgecolor='#dcb88a',
                  framealpha=0.9, handlelength=2.2)
for ln in leg2.get_lines():
    ln.set_linewidth(3)

fig.text(0.0102, 0.991, 'data from [421/mic0]\nstarting point is [20241121_000056]',
         ha='left', va='top', fontsize=10, fontweight='bold')

fig.savefig('out.png', dpi=100)
